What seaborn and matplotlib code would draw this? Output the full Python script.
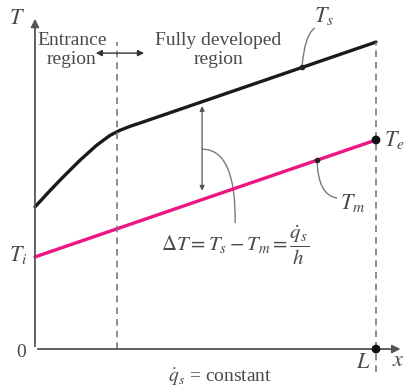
import matplotlib
matplotlib.use("Agg")
import matplotlib.pyplot as plt
import seaborn as sns
import pandas as pd
from matplotlib.path import Path
from matplotlib.patches import PathPatch

# tube position (L = 1) and temperatures (arbitrary units)
x_surface = [0.0, 0.044, 0.083, 0.132, 0.181, 0.22, 0.25, 0.28, 0.31, 1.0]
t_surface = [4.63, 5.16, 5.61, 6.15, 6.64, 6.96, 7.13, 7.26, 7.37, 10.0]
x_mean = [0.0, 1.0]
t_mean = [3.0, 6.81]
x_entrance = 0.24
x_end = 1.0

sns.set_style("white")
plt.rcParams["font.family"] = ["Liberation Serif", "DejaVu Serif"]
plt.rcParams["mathtext.fontset"] = "stix"

txt = "#4a4a4a"
grey = "#7a7a7a"

fig = plt.figure(figsize=(4.05, 3.88), dpi=100)
ax = fig.add_axes([0, 0, 1, 1])
ax.set_xlim(-0.1026, 1.085)
ax.set_ylim(-1.27, 11.37)
ax.axis("off")

surf = pd.DataFrame({"x": x_surface, "T": t_surface})
mean = pd.DataFrame({"x": x_mean, "T": t_mean})
sns.lineplot(data=surf, x="x", y="T", color="#1a1a1a", lw=2.4, ax=ax, sort=False)
sns.lineplot(data=mean, x="x", y="T", color="#ee1482", lw=2.4, ax=ax)

# axes with arrows
ax.annotate("", xy=(0, 10.85), xytext=(0, 0),
            arrowprops=dict(arrowstyle="-|>", color="#555555", lw=1.3, mutation_scale=12))
ax.annotate("", xy=(1.08, 0), xytext=(0, 0),
            arrowprops=dict(arrowstyle="-|>", color="#555555", lw=1.3, mutation_scale=12))

# dashed region markers
ax.plot([x_entrance, x_entrance], [0, 10.0], ls=(0, (4, 3)), color=grey, lw=1.2)
ax.plot([x_end, x_end], [-0.75, 10.0], ls=(0, (4, 3)), color=grey, lw=1.2)
ax.annotate("", xy=(0.17, 9.64), xytext=(0.328, 9.64),
            arrowprops=dict(arrowstyle="<|-|>", color="#333333", lw=1.0, mutation_scale=9))

# end points
sns.scatterplot(x=[x_end, x_end], y=[t_mean[-1], 0], color="#111111", s=40,
                edgecolor="none", ax=ax, zorder=5)

# delta T arrow
x_dt = 0.49
ts_dt = t_surface[-2] + (x_dt - x_surface[-2]) * (t_surface[-1] - t_surface[-2]) / (1 - x_surface[-2])
tm_dt = t_mean[0] + x_dt * (t_mean[1] - t_mean[0])
ax.annotate("", xy=(x_dt, tm_dt + 0.2), xytext=(x_dt, ts_dt - 0.05),
            arrowprops=dict(arrowstyle="<|-|>", color="#555555", lw=0.9, mutation_scale=7))


def leader(p0, p1, p2):
    ax.add_patch(PathPatch(Path([p0, p1, p2], [Path.MOVETO, Path.CURVE3, Path.CURVE3]),
                           fc="none", ec=grey, lw=1.0))


leader((0.49, 6.51), (0.59, 6.51), (0.587, 4.1))
leader((0.783, 9.19), (0.79, 10.2), (0.82, 10.46))
leader((0.827, 6.15), (0.83, 5.0), (0.886, 4.92))
ax.plot([0.783, 0.827], [9.19, 6.15], "o", color="#222222", ms=3)

fs = 14
ms_fs = 16
ax.text(-0.053, 10.72, r"$T$", fontsize=ms_fs, color=txt, ha="center", va="center")
ax.text(-0.05, 3.06, r"$T_i$", fontsize=ms_fs, color=txt, ha="center", va="center")
ax.text(-0.04, -0.1, "0", fontsize=fs, color=txt, ha="center", va="center")
ax.text(0.962, -0.46, r"$L$", fontsize=ms_fs, color=txt, ha="center", va="center")
ax.text(1.064, -0.42, r"$x$", fontsize=ms_fs, color=txt, ha="center", va="center")
ax.text(0.848, 10.85, r"$T_s$", fontsize=ms_fs, color=txt, ha="center", va="center")
ax.text(1.055, 6.81, r"$T_e$", fontsize=ms_fs, color=txt, ha="center", va="center")
ax.text(0.93, 4.75, r"$T_m$", fontsize=ms_fs, color=txt, ha="center", va="center")
ax.text(0.108, 9.74, "Entrance\nregion", fontsize=fs, color=txt, ha="center",
        va="center", linespacing=1.1)
ax.text(0.537, 9.74, "Fully developed\nregion", fontsize=fs, color=txt, ha="center",
        va="center", linespacing=1.1)
ax.text(0.587, 3.39, r"$\Delta T = T_s - T_m = \dfrac{\dot{q}_s}{h}$", fontsize=15,
        color=txt, ha="center", va="center")
ax.text(0.543, -0.91, r"$\dot{q}_s$ = constant", fontsize=fs, color=txt,
        ha="center", va="center")

fig.savefig("out.png", dpi=100)
